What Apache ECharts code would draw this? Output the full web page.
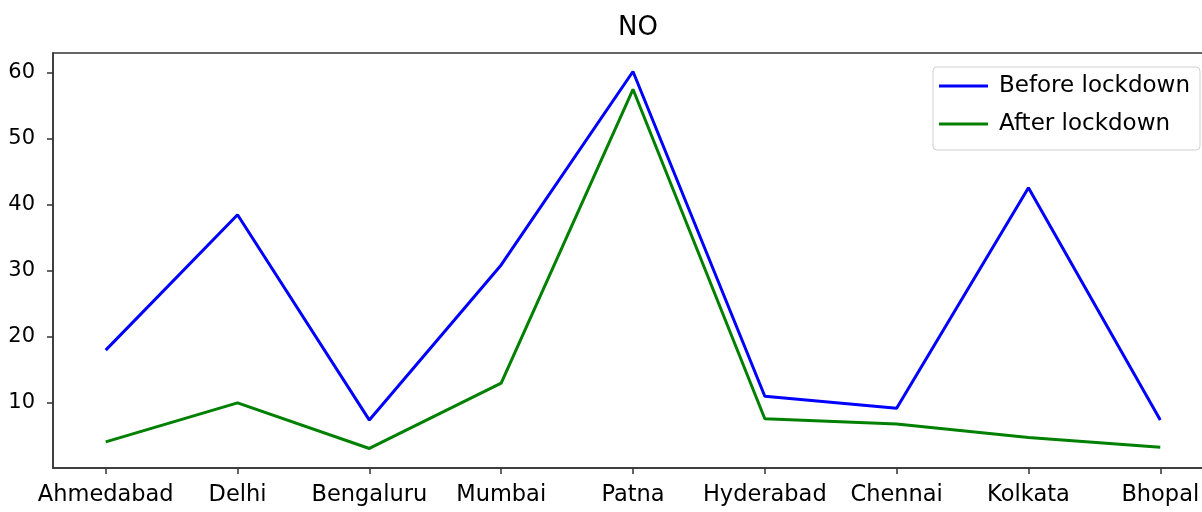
<!DOCTYPE html>
<html>
<head>
<meta charset="utf-8">
<script src="https://cdn.jsdelivr.net/npm/echarts@6/dist/echarts.min.js"></script>
<style>
html,body{margin:0;padding:0;background:#fff;}
#chart{width:1202px;height:512px;}
</style>
</head>
<body>
<div id="chart"></div>
<script>
var chartTitle = 'NO';
var cities = ['Ahmedabad','Delhi','Bengaluru','Mumbai','Patna','Hyderabad','Chennai','Kolkata','Bhopal'];
var beforeLockdown = [18.0, 38.5, 7.4, 30.9, 60.2, 11.0, 9.2, 42.6, 7.4];
var afterLockdown = [4.1, 10.0, 3.1, 13.0, 57.5, 7.6, 6.8, 4.75, 3.3];
var yTicks = [10, 20, 30, 40, 50, 60];
var seriesNames = ['Before lockdown', 'After lockdown'];

var xIdx = cities.map(function(_, i){ return i; });
function pairs(vals){ return vals.map(function(v, i){ return [i, v]; }); }

var font = 'DejaVu Sans';
var chart = echarts.init(document.getElementById('chart'), null, {renderer:'canvas'});
chart.setOption({
  animation: false,
  backgroundColor: '#fff',
  title: {
    text: chartTitle,
    left: 613, top: 10,
    textStyle: {fontFamily: font, fontSize: 26, fontWeight: 'normal', color: '#000'}
  },
  grid: {
    left: 53, top: 53, bottom: 44, right: -11,
    outerBoundsMode: 'none',
    containLabel: false,
    show: true, borderColor: '#333', borderWidth: 1.5, backgroundColor: 'transparent'
  },
  legend: {
    orient: 'vertical',
    right: 2, top: 67,
    padding: [6, 10, 13, 6],
    itemGap: 12,
    itemWidth: 49, itemHeight: 3,
    icon: 'rect',
    backgroundColor: '#fff',
    borderColor: '#d0d0d0', borderWidth: 1, borderRadius: 4,
    textStyle: {fontFamily: font, fontSize: 23, color: '#000', lineHeight: 26, padding: [0,0,0,6]},
    data: seriesNames
  },
  xAxis: {
    type: 'value',
    min: -0.4, max: 8.4,
    splitLine: {show: false},
    axisLine: {show: true, onZero: false, lineStyle: {color: '#333', width: 1.5}},
    axisTick: {show: true, customValues: xIdx, length: 6, lineStyle: {color: '#333', width: 1.5}},
    axisLabel: {
      customValues: xIdx, margin: 16,
      formatter: function(v){ return cities[Math.round(v)]; },
      fontFamily: font, fontSize: 22.5, color: '#000'
    }
  },
  yAxis: {
    type: 'value',
    min: 0.14, max: 63.0,
    splitLine: {show: false},
    axisLine: {show: true, onZero: false, lineStyle: {color: '#333', width: 1.5}},
    axisTick: {show: true, customValues: yTicks, length: 6, lineStyle: {color: '#333', width: 1.5}},
    axisLabel: {
      customValues: yTicks, margin: 18,
      fontFamily: font, fontSize: 21, color: '#000'
    }
  },
  series: [
    {name: seriesNames[0], type: 'line', data: pairs(beforeLockdown), showSymbol: false, symbol: 'none',
     lineStyle: {color: '#0000ff', width: 3}, itemStyle: {color: '#0000ff'}},
    {name: seriesNames[1], type: 'line', data: pairs(afterLockdown), showSymbol: false, symbol: 'none',
     lineStyle: {color: '#008000', width: 3}, itemStyle: {color: '#008000'}}
  ]
});
</script>
</body>
</html>
